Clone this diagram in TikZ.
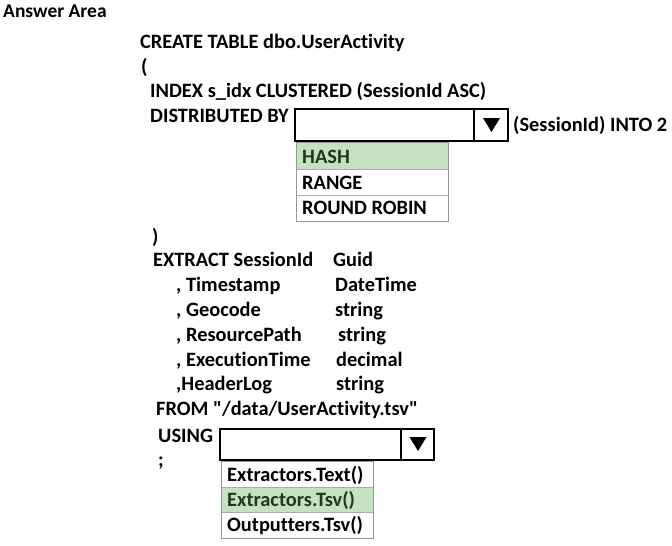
\documentclass[tikz,border=0pt]{standalone}
\usepackage{fontspec}
\setmainfont{Carlito}[Ligatures={NoCommon,TeXOff}]
\definecolor{selfill}{RGB}{198,224,196}
\definecolor{seltext}{RGB}{28,58,28}
\definecolor{listline}{RGB}{150,150,150}
\begin{document}
\begin{tikzpicture}[x=1pt,y=-1pt,
  txt/.style={anchor=base west,inner sep=0pt,font=\fontsize{20.4}{23}\selectfont\bfseries},
  ttl/.style={anchor=base west,inner sep=0pt,font=\fontsize{19.5}{22}\selectfont\bfseries},
  seltxt/.style={txt,text=seltext},
  ddbox/.style={draw=black,line width=2.8pt,fill=white},
  lstbox/.style={draw=listline,line width=0.8pt},
  rowline/.style={draw=listline!80,line width=0.7pt},
  tri/.style={fill=black,draw=none}]
\useasboundingbox (0,0) rectangle (672,546);
\fill[white] (0,0) rectangle (672,546);
\node[ttl] (title) at (3,17) {Answer Area};
\node[txt] (l1) at (140,48) {CREATE TABLE dbo.UserActivity};
\node[txt] (l2) at (141,73) {(};
\node[txt] (l3) at (150,97) {INDEX s\_idx CLUSTERED (SessionId ASC)};
\node[txt] (l4) at (150,122) {DISTRIBUTED BY};
% dropdown 1
\draw[ddbox] (295,109) rectangle (508,141);
\draw[black,line width=2.8pt] (474,109) -- (474,141);
\fill[tri] (483,118) -- (500,118) -- (491.5,132) -- cycle;
\node[txt] (l4b) at (513,131) {(SessionId) INTO 2};
% list 1
\fill[selfill] (296,142) rectangle (448,169);
\draw[rowline] (296,169) -- (448,169);
\draw[rowline] (296,195) -- (448,195);
\draw[lstbox] (296,142) rectangle (448,221);
\node[seltxt] (o1) at (302,163) {HASH};
\node[txt] (o2) at (302,189) {RANGE};
\node[txt] (o3) at (302,214) {ROUND ROBIN};
% body
\node[txt] (l5) at (152,243) {)};
\node[txt] (l6) at (153,266) {EXTRACT SessionId};
\node[txt] (t1) at (333,266) {Guid};
\node[txt] (l7) at (176,291) {, Timestamp};
\node[txt] (t2) at (335,291) {DateTime};
\node[txt] (l8) at (176,316) {, Geocode};
\node[txt] (t3) at (335,316) {string};
\node[txt] (l9) at (176,341) {, ResourcePath};
\node[txt] (t4) at (338,341) {string};
\node[txt] (l10) at (176,366) {, ExecutionTime};
\node[txt] (t5) at (336,366) {decimal};
\node[txt] (l11) at (176,390) {,HeaderLog};
\node[txt] (t6) at (336,390) {string};
\node[txt] (l12) at (156,415) {FROM "/data/UserActivity.tsv"};
\node[txt] (l13) at (158,442) {USING};
\node[txt] (l14) at (158,466) {;};
% dropdown 2
\draw[ddbox] (220,429) rectangle (434,460);
\draw[black,line width=2.8pt] (401,429) -- (401,460);
\fill[tri] (409.5,437) -- (426.5,437) -- (418,451) -- cycle;
% list 2
\fill[selfill] (221,487) rectangle (373,512);
\draw[rowline] (221,487) -- (373,487);
\draw[rowline] (221,512) -- (373,512);
\draw[lstbox] (221,461) rectangle (373,538);
\node[txt] (p1) at (227,481) {Extractors.Text()};
\node[seltxt] (p2) at (227,506) {Extractors.Tsv()};
\node[txt] (p3) at (227,531) {Outputters.Tsv()};
\end{tikzpicture}
\end{document}
